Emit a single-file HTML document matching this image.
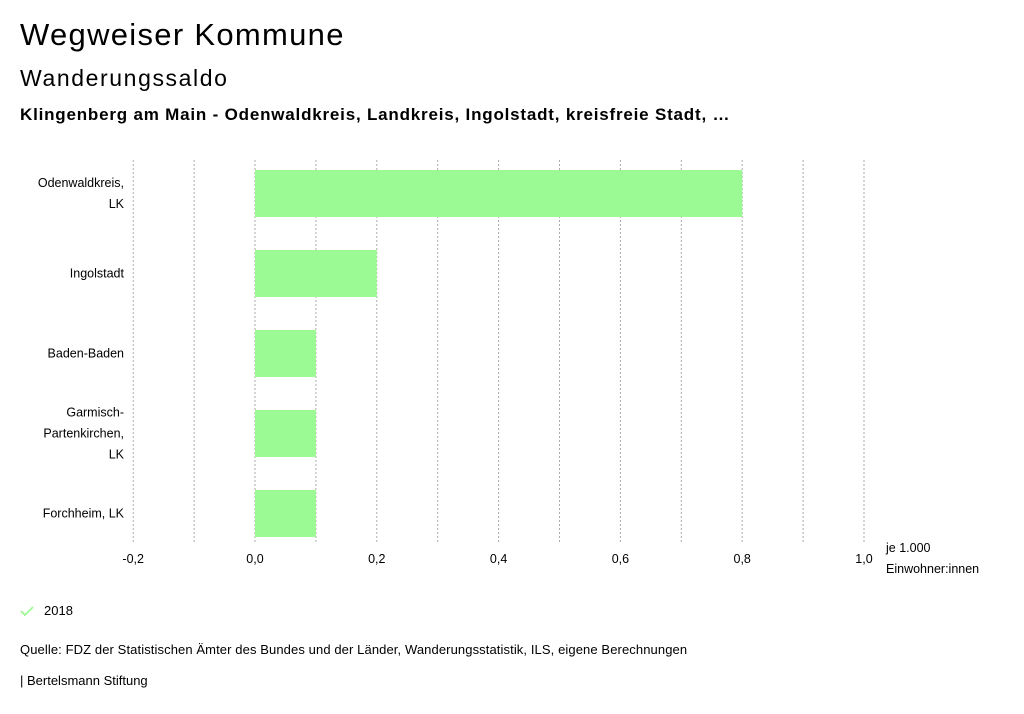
<!DOCTYPE html>
<html><head><meta charset="utf-8"><style>
body{margin:0;background:#fff;font-family:"Liberation Sans",sans-serif;color:#000}
.t{position:absolute;white-space:nowrap}
</style></head><body>
<div style="position:relative;width:1024px;height:714px;overflow:hidden">
<div class="t" style="left:20px;top:17px;font-size:31px;letter-spacing:1.3px">Wegweiser Kommune</div>
<div class="t" style="left:20px;top:65px;font-size:23px;letter-spacing:1.6px">Wanderungssaldo</div>
<div class="t" style="left:20px;top:105px;font-size:17px;font-weight:bold;letter-spacing:0.8px">Klingenberg am Main - Odenwaldkreis, Landkreis, Ingolstadt, kreisfreie Stadt, …</div>
<svg id="chart" width="1024" height="714" style="position:absolute;left:0;top:0"></svg>
<svg class="t" style="left:20px;top:605px" width="14" height="12"><path d="M1 6 L5 10 L13 2" stroke="#9cfa94" stroke-width="1.8" fill="none"/></svg>
<div class="t" style="left:44px;top:603px;font-size:13px">2018</div>
<div class="t" style="left:20px;top:642px;font-size:13px;letter-spacing:0.1px">Quelle: FDZ der Statistischen Ämter des Bundes und der Länder, Wanderungsstatistik, ILS, eigene Berechnungen</div>
<div class="t" style="left:20px;top:673px;font-size:13px">| Bertelsmann Stiftung</div>
</div>
<script>
const categories=[["Odenwaldkreis,","LK"],["Ingolstadt"],["Baden-Baden"],["Garmisch-","Partenkirchen,","LK"],["Forchheim, LK"]];
const values=[0.8,0.2,0.1,0.1,0.1];
const ticks=[-0.2,-0.1,0,0.1,0.2,0.3,0.4,0.5,0.6,0.7,0.8,0.9,1.0];
const tickLabels=["-0,2","0,0","0,2","0,4","0,6","0,8","1,0"];
const labelTicks=[-0.2,0,0.2,0.4,0.6,0.8,1.0];
const NS="http://www.w3.org/2000/svg";
const svg=document.getElementById('chart');
const x=v=>255+(v-0)*609;
const top0=160,band=80,barH=47;
const y=i=>top0+i*band+10;
function mk(t,a){const e=document.createElementNS(NS,t);for(const k in a)e.setAttribute(k,a[k]);svg.appendChild(e);return e;}
ticks.forEach(v=>{const l=mk('line',{x1:x(v),x2:x(v),y1:160,y2:543,stroke:'#aaa','stroke-dasharray':'2,2','stroke-width':1});

});
labelTicks.forEach((v,i)=>{const t=mk('text',{x:x(v),y:563,'text-anchor':'middle','font-size':12.5,'font-family':'Liberation Sans, sans-serif'});t.textContent=tickLabels[i];

});
values.forEach((v,i)=>{const r=mk('rect',{x:Math.min(x(0),x(v)),y:y(i),width:Math.abs(x(v)-x(0)),height:barH,fill:'#9cfa94'});


const lines=categories[i];const cy=y(i)+barH/2;
lines.forEach((s,j)=>{const t=mk('text',{x:124,y:cy+4+(j-(lines.length-1)/2)*21,'text-anchor':'end','font-size':12.5,'font-family':'Liberation Sans, sans-serif'});t.textContent=s;

});});
[["je 1.000",552],["Einwohner:innen",573]].forEach(a=>{const t=mk('text',{x:886,y:a[1],'font-size':12.5,'font-family':'Liberation Sans, sans-serif'});t.textContent=a[0];

});
</script>
</body></html>
